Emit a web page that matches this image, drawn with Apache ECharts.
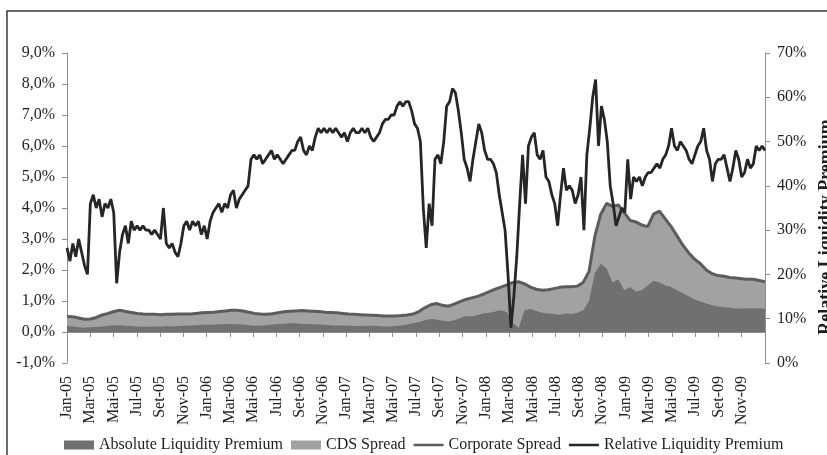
<!DOCTYPE html>
<html>
<head>
<meta charset="utf-8">
<script src="https://cdn.jsdelivr.net/npm/echarts@6/dist/echarts.min.js"></script>
<style>
  html, body { margin: 0; padding: 0; background: #fff; }
  #chart { width: 827px; height: 455px; }
</style>
</head>
<body>
<div id="chart"></div>
<script>
// tick labels, one every two months (Portuguese month abbreviations)
const monthLabels = [
  "Jan-05", "Mar-05", "Mai-05", "Jul-05", "Set-05", "Nov-05",
  "Jan-06", "Mar-06", "Mai-06", "Jul-06", "Set-06", "Nov-06",
  "Jan-07", "Mar-07", "Mai-07", "Jul-07", "Set-07", "Nov-07",
  "Jan-08", "Mar-08", "Mai-08", "Jul-08", "Set-08", "Nov-08",
  "Jan-09", "Mar-09", "Mai-09", "Jul-09", "Set-09", "Nov-09",
];

// corporate spread, % (two readings per month, Jan-05 .. Dec-09)
const corpSpread = [
  0.50, 0.49, 0.45, 0.41, 0.42, 0.47, 0.55, 0.60, 0.66, 0.70, 0.66, 0.63,
  0.60, 0.58, 0.57, 0.57, 0.56, 0.57, 0.57, 0.58, 0.58, 0.58, 0.60, 0.62,
  0.63, 0.64, 0.66, 0.68, 0.70, 0.70, 0.68, 0.64, 0.60, 0.58, 0.57, 0.59,
  0.62, 0.65, 0.67, 0.68, 0.69, 0.68, 0.67, 0.66, 0.64, 0.63, 0.62, 0.60,
  0.58, 0.57, 0.56, 0.55, 0.54, 0.53, 0.52, 0.52, 0.52, 0.53, 0.55, 0.58,
  0.66, 0.78, 0.88, 0.92, 0.86, 0.83, 0.90, 0.98, 1.05, 1.10, 1.15, 1.22,
  1.30, 1.38, 1.45, 1.52, 1.60, 1.62, 1.55, 1.45, 1.38, 1.35, 1.36, 1.40,
  1.44, 1.46, 1.46, 1.48, 1.60, 1.95, 3.10, 3.80, 4.15, 4.05, 4.10, 3.85,
  3.60, 3.55, 3.45, 3.40, 3.80, 3.90, 3.65, 3.40, 3.10, 2.80, 2.55, 2.35,
  2.20, 2.00, 1.88, 1.82, 1.80, 1.76, 1.74, 1.72, 1.70, 1.70, 1.66, 1.62,
];

// absolute liquidity premium, % (same dates)
const absPremium = [
  0.20, 0.18, 0.15, 0.14, 0.15, 0.16, 0.18, 0.20, 0.22, 0.22, 0.20, 0.19,
  0.18, 0.17, 0.17, 0.18, 0.18, 0.19, 0.18, 0.19, 0.20, 0.21, 0.22, 0.23,
  0.23, 0.24, 0.25, 0.26, 0.26, 0.25, 0.24, 0.22, 0.20, 0.21, 0.22, 0.24,
  0.26, 0.27, 0.28, 0.28, 0.27, 0.26, 0.25, 0.24, 0.23, 0.22, 0.21, 0.21,
  0.20, 0.19, 0.19, 0.20, 0.20, 0.19, 0.18, 0.18, 0.19, 0.21, 0.24, 0.28,
  0.32, 0.38, 0.42, 0.40, 0.36, 0.34, 0.38, 0.44, 0.52, 0.50, 0.55, 0.60,
  0.62, 0.66, 0.70, 0.64, 0.30, 0.12, 0.70, 0.75, 0.68, 0.62, 0.60, 0.58,
  0.56, 0.60, 0.58, 0.62, 0.70, 1.00, 1.90, 2.20, 2.05, 1.60, 1.70, 1.35,
  1.45, 1.30, 1.35, 1.50, 1.65, 1.60, 1.50, 1.45, 1.35, 1.25, 1.15, 1.05,
  0.98, 0.92, 0.86, 0.82, 0.80, 0.78, 0.76, 0.76, 0.76, 0.77, 0.76, 0.75,
];

// relative liquidity premium, % (four readings per month, right axis)
const relPremium = [
  26, 23, 27, 24,  28, 25, 22, 20,  36, 38, 35, 37,  33, 36, 35, 37,
  34, 18, 25, 29,  31, 27, 32, 30,  31, 30, 31, 30,  30, 29, 30, 29,
  28, 35, 27, 26,  27, 25, 24, 27,  31, 32, 30, 32,  31, 32, 29, 31,
  28, 32, 34, 35,  36, 34, 36, 35,  38, 39, 35, 37,  38, 39, 40, 46,
  47, 46, 47, 45,  46, 47, 48, 46,  47, 46, 45, 46,  47, 48, 48, 50,
  51, 48, 47, 49,  48, 51, 53, 52,  53, 52, 53, 52,  53, 52, 51, 52,
  50, 52, 53, 52,  52, 53, 52, 53,  51, 50, 51, 52,  54, 55, 55, 56,
  56, 58, 59, 58,  59, 59, 57, 54,  53, 50, 35, 26,  36, 31, 46, 47,
  45, 50, 58, 59,  62, 61, 57, 52,  46, 44, 41, 46,  50, 54, 52, 48,
  46, 46, 45, 43,  38, 34, 30, 20,   8, 15, 24, 36,  47, 36, 49, 51,
  52, 47, 46, 48,  42, 41, 38, 36,  31, 38, 44, 39,  40, 39, 36, 38,
  42, 30, 47, 53,  60, 64, 49, 58,  55, 50, 40, 36,  31, 33, 35, 34,
  46, 37, 42, 41,  42, 40, 42, 43,  43, 44, 45, 44,  46, 47, 49, 53,
  49, 48, 50, 49,  48, 46, 45, 47,  49, 50, 53, 48,  46, 41, 45, 46,
  46, 47, 44, 41,  44, 48, 46, 42,  43, 46, 44, 45,  49, 48, 49, 48,
];

const MONTHS = 60;

// x value in months since Jan-05
function pairs(arr) {
  const step = MONTHS / (arr.length - 1);
  return arr.map((v, i) => [i * step, v]);
}

const serif = "Liberation Serif";
const axisGray = "#8e8e8e";
const textColor = "#1e1e1e";
const darkGray = "#707070";
const lightGray = "#a2a2a2";
const corpColor = "#5c5c5c";
const relColor = "#262626";

// legend icons: boxes for the areas, thin bars for the lines
// (tiny corner dots keep the icon box at full size so the bar stays thin)
const boxIcon = "rect";
const barIcon = "path://M0,0h0.01v0.01h-0.01z M0,3.2h30v2.6h-30z M29.99,8.99h0.01v0.01h-0.01z";

const chart = echarts.init(document.getElementById("chart"), null, { renderer: "canvas" });

chart.setOption({
  animation: false,
  backgroundColor: "#fff",
  textStyle: { fontFamily: serif },
  grid: { left: 67, right: 62, top: 53, bottom: 92, containLabel: false },
  legend: {
    left: 59,
    top: 432,
    itemGap: 8,
    itemWidth: 30,
    itemHeight: 9,
    textStyle: { fontFamily: serif, fontSize: 16, color: textColor },
    data: [
      { name: "Absolute Liquidity Premium", icon: boxIcon },
      { name: "CDS Spread", icon: boxIcon },
      { name: "Corporate Spread", icon: barIcon },
      { name: "Relative Liquidity Premium", icon: barIcon },
    ],
  },
  xAxis: {
    type: "value",
    min: 0,
    max: MONTHS,
    interval: 2,
    axisLine: { show: true, onZero: true, onZeroAxisIndex: 0, lineStyle: { color: axisGray, width: 1 } },
    axisTick: { show: true, length: 5, lineStyle: { color: axisGray } },
    splitLine: { show: false },
    axisLabel: {
      rotate: 90,
      margin: 13,
      fontFamily: serif,
      fontSize: 16,
      color: textColor,
      showMaxLabel: false,
      formatter: v => monthLabels[Math.round(v / 2)] || "",
    },
  },
  yAxis: [
    {
      type: "value",
      min: -1,
      max: 9,
      interval: 1,
      axisLine: { show: true, lineStyle: { color: axisGray } },
      axisTick: { show: true, length: 5, lineStyle: { color: axisGray } },
      splitLine: { show: false },
      axisLabel: {
        margin: 12,
        fontFamily: serif,
        fontSize: 16,
        color: textColor,
        formatter: v => v.toFixed(1).replace(".", ",") + "%",
      },
    },
    {
      type: "value",
      position: "right",
      min: 0,
      max: 70,
      interval: 10,
      axisLine: { show: true, lineStyle: { color: axisGray } },
      axisTick: { show: true, length: 5, lineStyle: { color: axisGray } },
      splitLine: { show: false },
      axisLabel: {
        margin: 12,
        fontFamily: serif,
        fontSize: 16,
        color: textColor,
        formatter: v => v + "%",
      },
    },
  ],
  graphic: [
    {
      type: "rect",
      shape: { x: 7, y: 11, width: 900, height: 600 },
      style: { fill: null, stroke: "#3a3a3a", lineWidth: 1.5 },
      silent: true,
    },
    {
      type: "text",
      x: 826,
      y: 227,
      rotation: Math.PI / 2,
      style: {
        text: "Relative Liquidity Premium",
        font: "bold 18px " + serif,
        fill: textColor,
        align: "center",
        verticalAlign: "middle",
      },
      silent: true,
    },
  ],
  series: [
    // CDS band runs from the absolute premium up to the corporate spread:
    // fill up to the corporate spread, the absolute area covers the lower part
    {
      name: "CDS Spread",
      type: "line",
      symbol: "none",
      data: pairs(corpSpread),
      lineStyle: { width: 0, color: lightGray },
      itemStyle: { color: lightGray },
      areaStyle: { color: lightGray, opacity: 1 },
      z: 1,
    },
    {
      name: "Absolute Liquidity Premium",
      type: "line",
      symbol: "none",
      data: pairs(absPremium),
      lineStyle: { width: 0, color: darkGray },
      itemStyle: { color: darkGray },
      areaStyle: { color: darkGray, opacity: 1 },
      z: 2,
    },
    {
      name: "Corporate Spread",
      type: "line",
      symbol: "none",
      data: pairs(corpSpread),
      lineStyle: { width: 3, color: corpColor },
      itemStyle: { color: corpColor },
      z: 3,
    },
    {
      name: "Relative Liquidity Premium",
      type: "line",
      yAxisIndex: 1,
      symbol: "none",
      data: pairs(relPremium),
      lineStyle: { width: 2.8, color: relColor },
      itemStyle: { color: relColor },
      z: 4,
    },
  ],
});
</script>
</body>
</html>
